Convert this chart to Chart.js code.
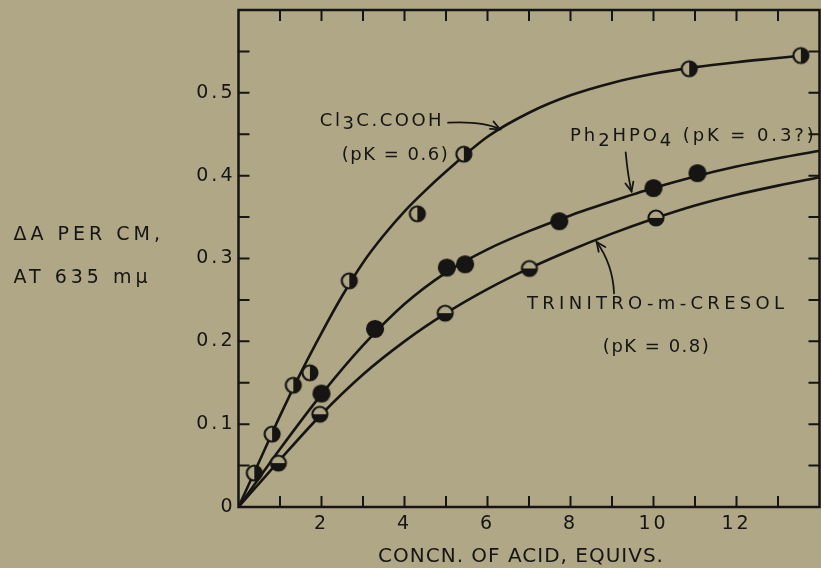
<!DOCTYPE html>
<html>
<head>
<meta charset="utf-8">
<script src="https://cdn.jsdelivr.net/npm/chart.js@4.4.1/dist/chart.umd.min.js"></script>
<style>
  html, body { margin: 0; padding: 0; background: #b0a786; }
  #wrap { width: 821px; height: 568px; position: relative; }
</style>
</head>
<body>
<div id="wrap"><canvas id="chart"></canvas></div>
<script>
// measured points: concn. of acid (equivs) vs delta A per cm
const clX = [0.38, 0.81, 1.32, 1.72, 2.67, 4.31, 5.43, 10.86, 13.55];
const clY = [0.041, 0.088, 0.147, 0.162, 0.273, 0.354, 0.426, 0.529, 0.545];
const phX = [2.0, 3.29, 5.02, 5.46, 7.73, 10.0, 11.06];
const phY = [0.137, 0.215, 0.289, 0.293, 0.345, 0.385, 0.403];
const tnX = [0.96, 1.96, 4.98, 7.01, 10.06];
const tnY = [0.053, 0.112, 0.234, 0.288, 0.349];

// drawn curves
const clCurveX = [0, 0.5, 1, 1.5, 2, 2.5, 3, 3.5, 4, 4.5, 5, 6, 7, 8, 9, 10, 11, 12, 13, 13.6];
const clCurveY = [0, 0.055, 0.110, 0.162, 0.210, 0.255, 0.295, 0.328, 0.357, 0.382, 0.405, 0.447, 0.476, 0.497, 0.512, 0.523, 0.531, 0.537, 0.542, 0.545];
const phCurveX = [0, 1, 2, 3, 4, 5, 6, 7, 8, 9, 10, 11, 12, 13, 14];
const phCurveY = [0, 0.070, 0.136, 0.195, 0.245, 0.283, 0.311, 0.333, 0.352, 0.369, 0.385, 0.399, 0.411, 0.421, 0.430];
const tnCurveX = [0, 1, 2, 3, 4, 5, 6, 7, 8, 9, 10, 11, 12, 13, 14];
const tnCurveY = [0, 0.057, 0.112, 0.160, 0.200, 0.234, 0.263, 0.288, 0.310, 0.330, 0.348, 0.364, 0.377, 0.388, 0.398];

const xLabels = [2, 4, 6, 8, 10, 12];
const yLabels = [0, 0.1, 0.2, 0.3, 0.4, 0.5];

const BG = '#b0a786';
const INK = '#161513';
const FONT = '"DejaVu Sans", sans-serif';

function pts(xs, ys) {
    return xs.map((x, i) => ({ x: x, y: ys[i] }));
}

function marker(kind, r) {
    const c = document.createElement('canvas');
    c.width = 24; c.height = 24;
    const g = c.getContext('2d');
    g.beginPath(); g.arc(12, 12, r, 0, 2 * Math.PI); g.fillStyle = BG; g.fill();
    g.fillStyle = INK;
    g.beginPath();
    if (kind === 'full') g.arc(12, 12, r, 0, 2 * Math.PI);
    if (kind === 'right') g.arc(12, 12, r, -Math.PI / 2, Math.PI / 2);
    if (kind === 'bottom') g.arc(12, 12, r, 0, Math.PI);
    g.closePath(); g.fill();
    g.beginPath(); g.arc(12, 12, r, 0, 2 * Math.PI);
    g.lineWidth = 2.2; g.strokeStyle = INK; g.stroke();
    return c;
}

function curve(xs, ys) {
    return {
        data: pts(xs, ys), showLine: true, pointRadius: 0,
        borderColor: INK, borderWidth: 2.6, cubicInterpolationMode: 'monotone', fill: false
    };
}

function points(xs, ys, img) {
    return {
        data: pts(xs, ys), showLine: false, pointStyle: img, pointRadius: 9,
        backgroundColor: INK, borderColor: INK
    };
}

// labels and arrows, positioned in data units
const notes = [
    { x: 1.96, y: 0.465, sp: 2.5, parts: [['Cl'], ['3', 3], ['C.COOH']] },
    { x: 2.49, y: 0.424, sp: 1.5, parts: [['(pK = 0.6)']] },
    { x: 7.99, y: 0.447, sp: 2.9, parts: [['Ph'], ['2', 5], ['HPO'], ['4', 5], [' (pK = 0.3?)']] },
    { x: 6.95, y: 0.245, sp: 4.3, parts: [['TRINITRO-m-CRESOL']] },
    { x: 8.78, y: 0.193, sp: 1.5, parts: [['(pK = 0.8)']] }
];
const arrows = [
    [[5.05, 0.464], [5.9, 0.466], [6.3, 0.456]],
    [[9.33, 0.428], [9.38, 0.40], [9.47, 0.381]],
    [[9.05, 0.258], [9.02, 0.293], [8.63, 0.320]]
];

function drawArrow(ctx, p0, c, p1) {
    ctx.beginPath();
    ctx.moveTo(p0.x, p0.y);
    ctx.quadraticCurveTo(c.x, c.y, p1.x, p1.y);
    ctx.stroke();
    const ang = Math.atan2(p1.y - c.y, p1.x - c.x);
    const L = 10, a = 0.42;
    ctx.beginPath();
    ctx.moveTo(p1.x - L * Math.cos(ang - a), p1.y - L * Math.sin(ang - a));
    ctx.lineTo(p1.x, p1.y);
    ctx.lineTo(p1.x - L * Math.cos(ang + a), p1.y - L * Math.sin(ang + a));
    ctx.stroke();
}

function noPad(s) {
    s.paddingLeft = 0; s.paddingRight = 0;
    s.paddingTop = 0; s.paddingBottom = 0;
}

const spacing = {
    id: 'spacing',
    beforeDraw(chart) {
        chart.ctx.letterSpacing = '3px';
    }
};

const frame = {
    id: 'frame',
    afterDraw(chart) {
        const ctx = chart.ctx;
        const a = chart.chartArea;
        const xs = chart.scales.x, ys = chart.scales.y;
        ctx.save();
        ctx.strokeStyle = INK;
        ctx.fillStyle = INK;
        ctx.lineWidth = 2.5;
        ctx.strokeRect(a.left, a.top, a.right - a.left, a.bottom - a.top);

        // inward ticks on all four sides
        ctx.lineWidth = 2;
        ctx.beginPath();
        xs.ticks.forEach(t => {
            if (t.value <= xs.min || t.value >= xs.max) return;
            const px = xs.getPixelForValue(t.value);
            ctx.moveTo(px, a.bottom); ctx.lineTo(px, a.bottom - 11);
            ctx.moveTo(px, a.top); ctx.lineTo(px, a.top + 11);
        });
        ys.ticks.forEach(t => {
            if (t.value <= ys.min || t.value >= ys.max) return;
            const py = ys.getPixelForValue(t.value);
            ctx.moveTo(a.left, py); ctx.lineTo(a.left + 11, py);
            ctx.moveTo(a.right, py); ctx.lineTo(a.right - 11, py);
        });
        ctx.stroke();

        // arrows
        ctx.lineWidth = 1.8;
        ctx.lineCap = 'round';
        arrows.forEach(ar => {
            const p = ar.map(q => ({ x: xs.getPixelForValue(q[0]), y: ys.getPixelForValue(q[1]) }));
            drawArrow(ctx, p[0], p[1], p[2]);
        });

        // curve labels
        ctx.font = '18px ' + FONT;
        ctx.textBaseline = 'middle';
        ctx.textAlign = 'left';
        notes.forEach(n => {
            ctx.letterSpacing = n.sp + 'px';
            let px = xs.getPixelForValue(n.x);
            const py = ys.getPixelForValue(n.y);
            n.parts.forEach(p => {
                ctx.fillText(p[0], px, py + (p[1] || 0));
                px += ctx.measureText(p[0]).width;
            });
        });

        // axis titles
        ctx.font = '19px ' + FONT;
        ctx.letterSpacing = '4px';
        ctx.fillText('\u0394A PER CM,', a.left - 225, a.top + 225);
        ctx.fillText('AT 635 m\u03bc', a.left - 225, a.top + 268);
        ctx.font = '20px ' + FONT;
        ctx.letterSpacing = '1px';
        ctx.textAlign = 'center';
        ctx.fillText('CONCN. OF ACID, EQUIVS.', 521, a.bottom + 50);
        ctx.restore();
    }
};

new Chart(document.getElementById('chart'), {
    type: 'scatter',
    data: {
        datasets: [
            points(clX, clY, marker('right', 7.5)),
            points(phX, phY, marker('full', 8)),
            points(tnX, tnY, marker('bottom', 7.5)),
            curve(clCurveX, clCurveY),
            curve(phCurveX, phCurveY),
            curve(tnCurveX, tnCurveY)
        ]
    },
    options: {
        responsive: true,
        maintainAspectRatio: false,
        animation: false,
        devicePixelRatio: 1,
        layout: { autoPadding: false, padding: { left: 0, right: 1.5, top: 10, bottom: 0 } },
        plugins: { legend: { display: false }, tooltip: { enabled: false } },
        scales: {
            x: {
                type: 'linear', min: 0, max: 14,
                grid: { display: false, drawTicks: false }, border: { display: false },
                ticks: {
                    stepSize: 1, autoSkip: false, maxRotation: 0, padding: 6,
                    color: INK, font: { family: FONT, size: 19 },
                    callback: v => xLabels.includes(v) ? String(v) : ''
                },
                afterFit: s => { s.height = 61; noPad(s); }
            },
            y: {
                type: 'linear', min: 0, max: 0.6,
                grid: { display: false, drawTicks: false }, border: { display: false },
                ticks: {
                    stepSize: 0.05, autoSkip: false, padding: 3,
                    color: INK, font: { family: FONT, size: 19 },
                    callback: v => {
                        const k = Math.round(v * 100);
                        const hit = yLabels.some(l => Math.round(l * 100) === k);
                        if (!hit) return '';
                        return k === 0 ? '0' : (k / 100).toFixed(1);
                    }
                },
                afterFit: s => { s.width = 238.5; noPad(s); }
            }
        }
    },
    plugins: [spacing, frame]
});
</script>
</body>
</html>
